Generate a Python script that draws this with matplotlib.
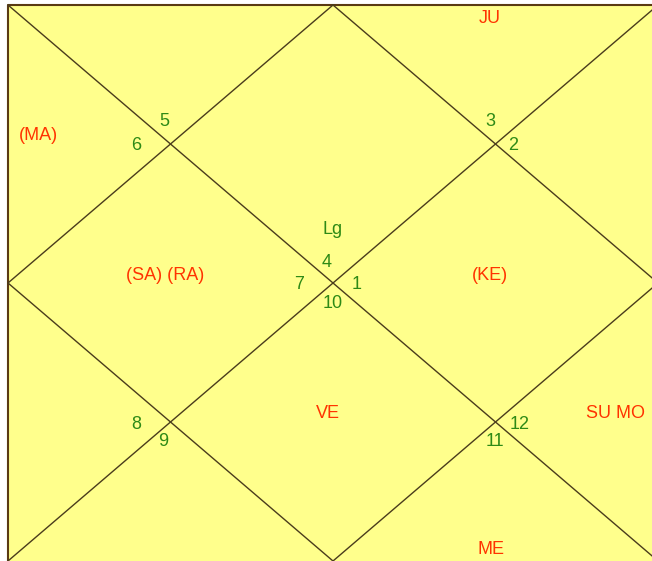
import matplotlib.pyplot as plt
from matplotlib.patches import Rectangle

# house numbers and what sits in them
house_nums = ['1', '2', '3', '4', '5', '6', '7', '8', '9', '10', '11', '12']
planets = ['JU', '(MA)', 'Lg', '(SA) (RA)', '(KE)', 'VE', 'SU MO', 'ME']

# layout (pixel positions in the 652x561 image)
num_pos = [(357, 284), (513, 145), (490, 121), (327, 262), (164, 121), (136, 145),
           (299, 284), (136, 424), (163, 441), (333, 303), (495, 441), (520, 424)]
planet_pos = [(490, 18), (38, 135), (333, 229), (165, 275), (490, 275),
              (328, 413), (615, 413), (491, 549)]
planet_col = ['red', 'red', 'green', 'red', 'red', 'red', 'red', 'red']

# chart box
x0, y0, x1, y1 = 8, 5, 658, 561
xm, ym = (x0 + x1) / 2, (y0 + y1) / 2

plt.rcParams['font.family'] = ['Liberation Sans', 'DejaVu Sans']
fig = plt.figure(figsize=(6.52, 5.61), dpi=100)
ax = fig.add_axes([0, 0, 1, 1])
ax.set_xlim(0, 652)
ax.set_ylim(561, 0)
ax.axis('off')

ax.add_patch(Rectangle((x0, y0), x1 - x0, y1 - y0, facecolor='#ffff8c',
                       edgecolor='none'))
# dark top and left border
ax.plot([x0, x0, x1], [y1, y0, y0], color='#5a3a12', lw=1.5)

line_col = '#4a3c1c'
ax.plot([x0, x1], [y0, y1], color=line_col, lw=1.0)
ax.plot([x0, x1], [y1, y0], color=line_col, lw=1.0)
ax.plot([xm, x0, xm, x1, xm], [y0, ym, y1, ym, y0], color=line_col, lw=1.0)

green = '#2e8a16'
red = '#ff3300'
for n, (x, y) in zip(house_nums, num_pos):
    ax.text(x, y, n, color=green, fontsize=13, ha='center', va='center')
for p, (x, y), c in zip(planets, planet_pos, planet_col):
    ax.text(x, y, p, color=green if c == 'green' else red, fontsize=13,
            ha='center', va='center')

fig.savefig('out.png', dpi=100)
